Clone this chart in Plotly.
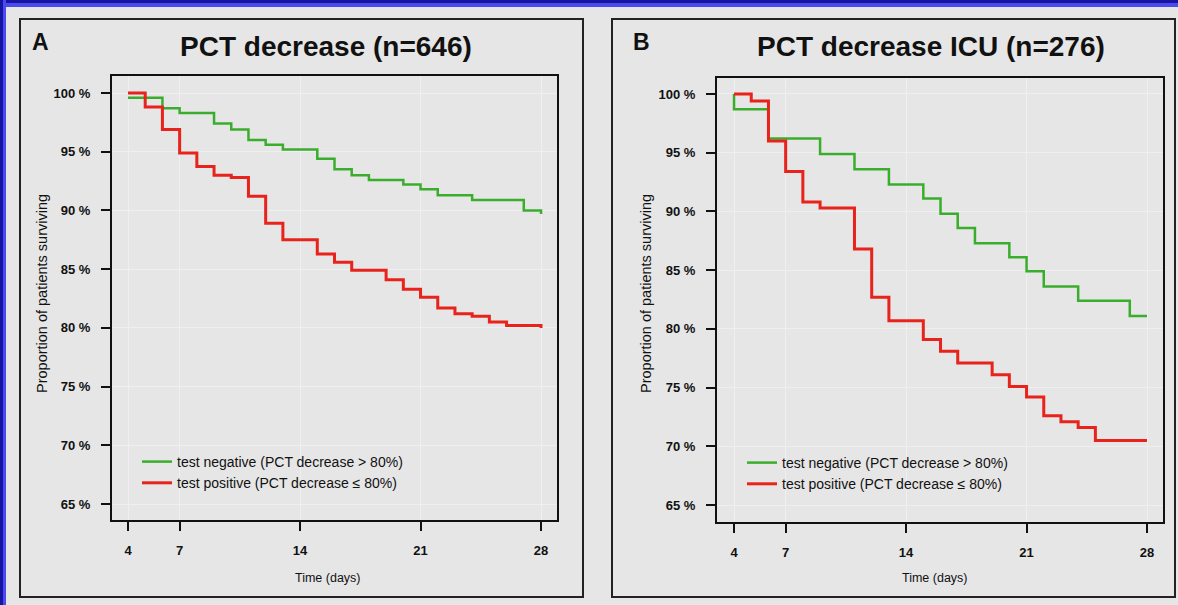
import plotly.graph_objects as go

W, H = 1178, 605

# ---- data ----
days_ticks = [4, 7, 14, 21, 28]
pct_ticks = [65, 70, 75, 80, 85, 90, 95, 100]
pct_labels = [f"{v} %" for v in pct_ticks]

a_neg_t = [4, 6, 7, 9, 10, 11, 12, 13, 15, 16, 17, 18, 20, 21, 22, 24, 27, 28]
a_neg_s = [99.6, 98.7, 98.3, 97.4, 96.9, 96.0, 95.6, 95.2, 94.4, 93.5, 93.0, 92.6,
           92.2, 91.8, 91.3, 90.9, 90.0, 89.7]
a_pos_t = [4, 5, 6, 7, 8, 9, 10, 11, 12, 13, 15, 16, 17, 19, 20, 21, 22, 23, 24, 25, 26, 28]
a_pos_s = [100, 98.8, 96.9, 94.9, 93.75, 93.0, 92.8, 91.2, 88.9, 87.5, 86.3, 85.6,
           84.9, 84.1, 83.3, 82.6, 81.7, 81.2, 81.0, 80.5, 80.2, 80.0]

b_neg_t = [4, 4, 6, 9, 11, 13, 15, 16, 17, 18, 20, 21, 22, 24, 27, 28]
b_neg_s = [100, 98.7, 96.2, 94.9, 93.6, 92.3, 91.1, 89.8, 88.6, 87.3, 86.1, 84.9,
           83.6, 82.4, 81.1, 81.1]
b_pos_t = [4, 5, 6, 7, 8, 9, 11, 12, 13, 15, 16, 17, 19, 20, 21, 22, 23, 24, 25, 28]
b_pos_s = [100, 99.4, 96.0, 93.4, 90.8, 90.3, 86.8, 82.7, 80.7, 79.1, 78.1, 77.1,
           76.1, 75.1, 74.2, 72.6, 72.1, 71.6, 70.5, 70.5]

neg_name = "test negative (PCT decrease > 80%)"
pos_name = "test positive (PCT decrease \u2264 80%)"
titles = ["PCT decrease (n=646)", "PCT decrease ICU (n=276)"]
letters = ["A", "B"]

GREEN = "#3aae2c"
RED = "#e8231b"
BG = "#e6e6e6"
FONT = "Liberation Sans, Arial, sans-serif"

def px(x):
    return x / W

def py(y):
    return 1 - y / H

fig = go.Figure()

fig.add_trace(go.Scatter(x=a_neg_t, y=a_neg_s, mode="lines", line=dict(shape="hv", color=GREEN, width=2.5),
                         name=neg_name, xaxis="x", yaxis="y", legend="legend"))
fig.add_trace(go.Scatter(x=a_pos_t, y=a_pos_s, mode="lines", line=dict(shape="hv", color=RED, width=3),
                         name=pos_name, xaxis="x", yaxis="y", legend="legend"))
fig.add_trace(go.Scatter(x=b_neg_t, y=b_neg_s, mode="lines", line=dict(shape="hv", color=GREEN, width=2.5),
                         name=neg_name, xaxis="x2", yaxis="y2", legend="legend2"))
fig.add_trace(go.Scatter(x=b_pos_t, y=b_pos_s, mode="lines", line=dict(shape="hv", color=RED, width=3),
                         name=pos_name, xaxis="x2", yaxis="y2", legend="legend2"))

tickfont = dict(family=FONT, size=13, color="#111111", weight="bold")
common_x = dict(tickvals=days_ticks, ticks="outside", ticklen=9, tickwidth=2, tickcolor="#111",
                showline=True, linecolor="#111", linewidth=2, mirror=True, zeroline=False,
                showgrid=True, gridcolor="#efefef", gridwidth=1, tickfont=tickfont,
                ticklabelstandoff=8)
common_y = dict(tickvals=pct_ticks, ticktext=pct_labels, ticks="outside", ticklen=9, tickwidth=2,
                tickcolor="#111", showline=True, linecolor="#111", linewidth=2, mirror=True,
                zeroline=False, showgrid=True, gridcolor="#efefef", gridwidth=1, tickfont=tickfont,
                ticklabelstandoff=8)

legend_common = dict(bgcolor="rgba(0,0,0,0)", borderwidth=0, itemwidth=30,
                     font=dict(family=FONT, size=14, color="#111"), tracegroupgap=0,
                     xanchor="left", yanchor="top", itemclick=False)

fig.update_layout(
    width=W, height=H, margin=dict(l=0, r=0, t=0, b=0),
    paper_bgcolor=BG, plot_bgcolor=BG,
    xaxis=dict(domain=[px(112), px(557)], range=[3.07, 28.93], anchor="y", **common_x),
    yaxis=dict(domain=[py(520), py(76)], range=[63.64, 101.45], anchor="x", **common_y),
    xaxis2=dict(domain=[px(717), px(1163)], range=[3.01, 28.93], anchor="y2", **common_x),
    yaxis2=dict(domain=[py(522), py(78)], range=[63.56, 101.36], anchor="x2", **common_y),
    legend=dict(x=px(137), y=py(446), **legend_common),
    legend2=dict(x=px(742), y=py(447), **legend_common),
    showlegend=True,
)

shapes = [
    # blue frame
    dict(type="rect", xref="paper", yref="paper", x0=0, x1=1, y0=py(7), y1=1,
         fillcolor="#4a4aee", line=dict(width=0), layer="below"),
    dict(type="rect", xref="paper", yref="paper", x0=0, x1=1, y0=py(3), y1=1,
         fillcolor="#1515a0", line=dict(width=0), layer="below"),
    dict(type="rect", xref="paper", yref="paper", x0=0, x1=px(6), y0=0, y1=1,
         fillcolor="#4a4aee", line=dict(width=0), layer="below"),
    dict(type="rect", xref="paper", yref="paper", x0=0, x1=px(3), y0=0, y1=1,
         fillcolor="#1515a0", line=dict(width=0), layer="below"),
    # panel borders
    dict(type="rect", xref="paper", yref="paper", x0=px(20), x1=px(583), y0=py(597), y1=py(19),
         line=dict(color="#222", width=2)),
    dict(type="rect", xref="paper", yref="paper", x0=px(612), x1=px(1175), y0=py(597), y1=py(19),
         line=dict(color="#222", width=2)),
]
fig.update_layout(shapes=shapes)

ann = []
for i, (cx_title, cx_plot, lx, ytx) in enumerate([(326, 328, 40, 42), (931, 935, 641, 646)]):
    ann.append(dict(text=titles[i], x=px(cx_title), y=py(46), xref="paper", yref="paper",
                    showarrow=False, xanchor="center", yanchor="middle",
                    font=dict(family=FONT, size=28, color="#111", weight="bold")))
    ann.append(dict(text=letters[i], x=px(lx), y=py(42), xref="paper", yref="paper",
                    showarrow=False, xanchor="center", yanchor="middle",
                    font=dict(family=FONT, size=23, color="#111", weight="bold")))
    ann.append(dict(text="Time (days)", x=px(cx_plot), y=py(578), xref="paper", yref="paper",
                    showarrow=False, xanchor="center", yanchor="middle",
                    font=dict(family=FONT, size=12.5, color="#111")))
    ann.append(dict(text="Proportion of patients surviving", x=px(ytx), y=py(294), xref="paper",
                    yref="paper", showarrow=False, xanchor="center", yanchor="middle", textangle=-90,
                    font=dict(family=FONT, size=14.5, color="#111")))
fig.update_layout(annotations=ann)

fig.write_html("out.html", config={"displayModeBar": False},
               post_script="document.body.style.margin='0px';")
